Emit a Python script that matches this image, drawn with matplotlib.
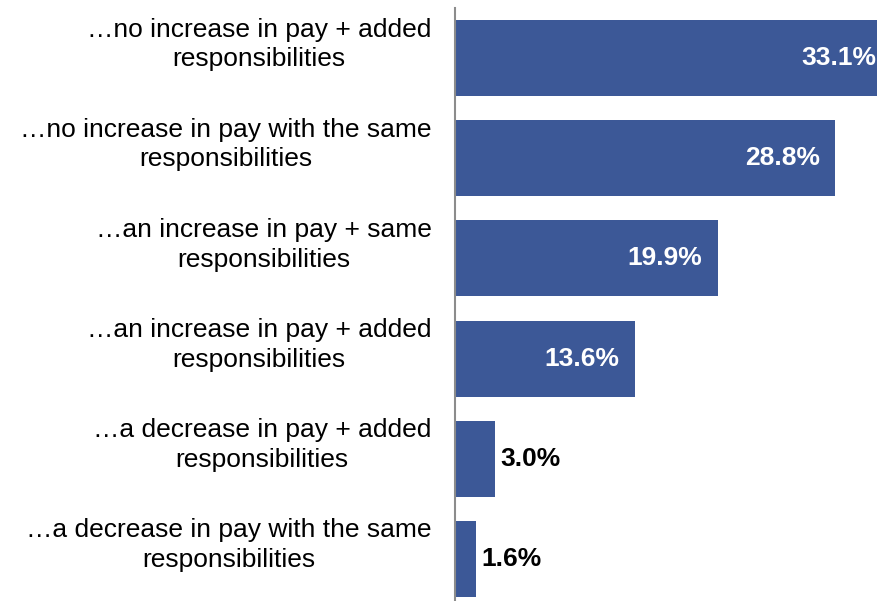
import matplotlib.pyplot as plt
import matplotlib.transforms as mtransforms

plt.rcParams['font.family'] = ['Liberation Sans', 'DejaVu Sans']

categories = [
    "…no increase in pay + added\nresponsibilities",
    "…no increase in pay with the same\nresponsibilities",
    "…an increase in pay + same\nresponsibilities",
    "…an increase in pay + added\nresponsibilities",
    "…a decrease in pay + added\nresponsibilities",
    "…a decrease in pay with the same\nresponsibilities",
]
values = [33.1, 28.8, 19.9, 13.6, 3.0, 1.6]
bar_color = "#3C5897"

fig = plt.figure(figsize=(8.77, 6.01), dpi=100)
W, H = 877, 601
# axes runs a bit past the right edge so the top bar gets cut off
ax = fig.add_axes([455 / W, 0, (892 - 455) / W, 593 / H])

ypos = list(range(len(values)))
ax.barh(ypos, values, height=0.76, color=bar_color)
ax.set_xlim(0, 33.1)
ax.set_ylim(5.42, -0.5)

for y, v in zip(ypos, values):
    txt = f"{v:.1f}%"
    if v > 10:
        ax.annotate(txt, (v, y), xytext=(-11, 0), textcoords="offset points",
                    ha="right", va="center", color="white",
                    fontsize=19, fontweight="bold")
    else:
        ax.annotate(txt, (v, y), xytext=(4, 0), textcoords="offset points",
                    ha="left", va="center", color="black",
                    fontsize=19, fontweight="bold")

ax.set_yticks(ypos)
ax.set_yticklabels(categories, fontsize=19, ha="right", multialignment="center",
                   linespacing=1.3)
ax.tick_params(axis="y", length=0, pad=17)
ax.set_xticks([])

# category labels sit a little above the bar centres
shift = mtransforms.ScaledTranslation(0, 19 / 100, fig.dpi_scale_trans)
for lbl in ax.get_yticklabels():
    lbl.set_transform(lbl.get_transform() + shift)

for side in ["top", "right", "bottom"]:
    ax.spines[side].set_visible(False)
ax.spines["left"].set_color("#8C8C8C")
ax.spines["left"].set_linewidth(1.5)

fig.savefig("out.png", dpi=100)
